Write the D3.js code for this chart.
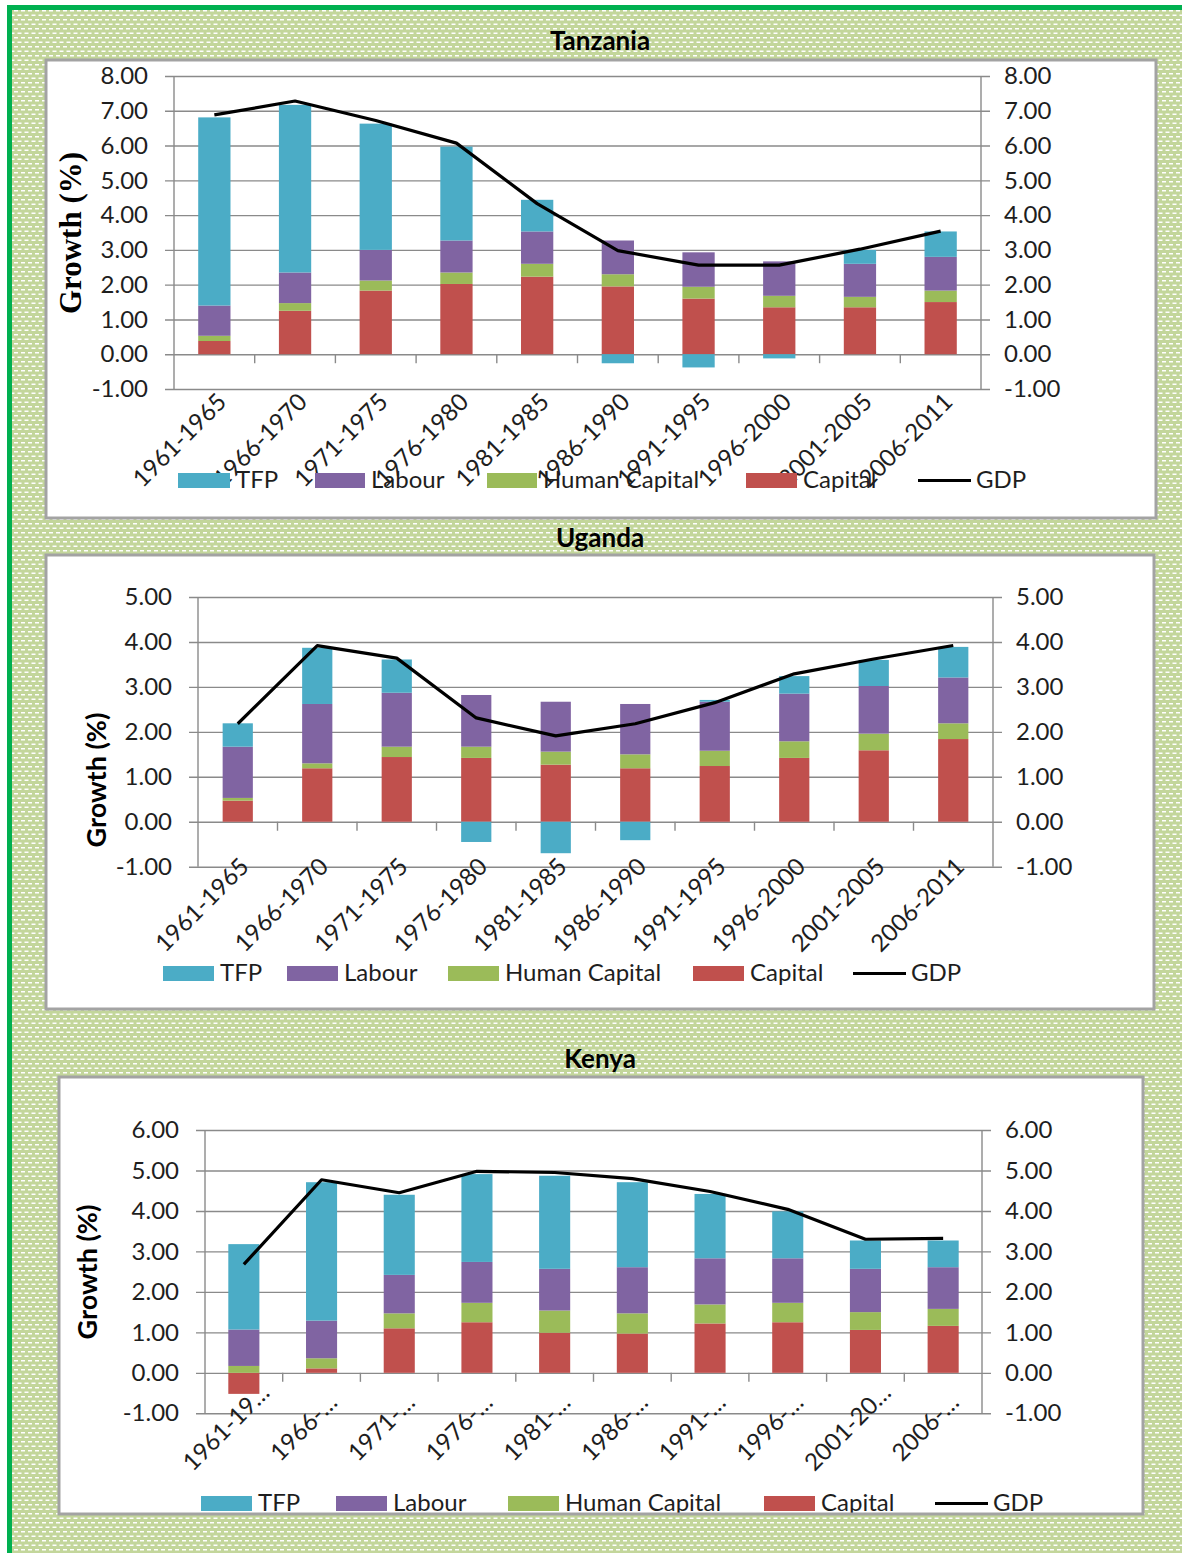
<!DOCTYPE html>
<html>
<head>
<meta charset="utf-8">
<script src="https://cdn.jsdelivr.net/npm/d3@7"></script>
<style>
  html, body { margin: 0; padding: 0; background: #ffffff; }
  svg { display: block; }
</style>
</head>
<body>
<svg id="chart" width="1182" height="1553"></svg>
<script>
// ---------------- DATA ----------------
const categories = ["1961-1965","1966-1970","1971-1975","1976-1980","1981-1985","1986-1990","1991-1995","1996-2000","2001-2005","2006-2011"];
const kenyaCategoryLabels = ["1961-19…","1966-…","1971-…","1976-…","1981-…","1986-…","1991-…","1996-…","2001-20…","2006-…"];
const seriesKeys = ["Capital","Human Capital","Labour","TFP"];
const legendLabels = ["TFP","Labour","Human Capital","Capital","GDP"];

// Tanzania
const tzCapital = [0.38,1.25,1.83,2.02,2.23,1.95,1.60,1.35,1.35,1.50];
const tzHuman   = [0.15,0.22,0.29,0.33,0.37,0.35,0.34,0.33,0.30,0.33];
const tzLabour  = [0.87,0.88,0.88,0.92,0.93,0.97,0.99,0.99,0.95,0.97];
const tzTFP     = [5.41,4.82,3.63,2.70,0.91,-0.26,-0.38,-0.12,0.40,0.73];
const tzGDP     = [6.88,7.28,6.72,6.07,4.33,2.98,2.56,2.56,3.02,3.54];
const tzTicks   = [-1,0,1,2,3,4,5,6,7,8];

// Uganda
const ugCapital = [0.47,1.19,1.44,1.42,1.27,1.19,1.24,1.42,1.59,1.84];
const ugHuman   = [0.06,0.11,0.23,0.25,0.29,0.31,0.34,0.37,0.37,0.35];
const ugLabour  = [1.14,1.32,1.20,1.15,1.11,1.12,1.09,1.06,1.06,1.02];
const ugTFP     = [0.52,1.25,0.74,-0.45,-0.70,-0.41,0.04,0.39,0.58,0.68];
const ugGDP     = [2.18,3.92,3.64,2.31,1.91,2.18,2.65,3.29,3.62,3.92];
const ugTicks   = [-1,0,1,2,3,4,5];

// Kenya
const keCapital = [-0.52,0.11,1.10,1.25,0.99,0.97,1.22,1.25,1.06,1.16];
const keHuman   = [0.17,0.25,0.37,0.48,0.55,0.50,0.47,0.48,0.44,0.42];
const keLabour  = [0.90,0.93,0.95,1.01,1.03,1.14,1.14,1.10,1.07,1.03];
const keTFP     = [2.11,3.42,1.98,2.17,2.30,2.10,1.59,1.16,0.70,0.66];
const keGDP     = [2.68,4.77,4.45,4.98,4.95,4.80,4.48,4.04,3.30,3.32];
const keTicks   = [-1,0,1,2,3,4,5,6];

// ---------------- STYLE ----------------
const colors = {"TFP":"#4bacc6","Labour":"#8064a2","Human Capital":"#9bbb59","Capital":"#c0504d","GDP":"#000000"};
const gridColor = "#8a8a8a";
const textColor = "#1e1e1e";
const sansFont = "Lato, 'Open Sans', sans-serif";
const fmt = d => d.toFixed(2);

const svg = d3.select("#chart").style("font-family", sansFont);
const defs = svg.append("defs");

// background pattern
const pat = defs.append("pattern").attr("id","bgpat").attr("patternUnits","userSpaceOnUse")
  .attr("width",7).attr("height",9);
pat.append("rect").attr("width",7).attr("height",9).attr("fill","#c3d69b");
pat.append("rect").attr("x",0).attr("y",1).attr("width",4).attr("height",1.5).attr("fill","#ffffff");
pat.append("rect").attr("x",3.5).attr("y",5.5).attr("width",4).attr("height",1.5).attr("fill","#ffffff");
pat.append("rect").attr("x",-3.5).attr("y",5.5).attr("width",4).attr("height",1.5).attr("fill","#ffffff");

svg.append("rect").attr("x",9.5).attr("y",7.5).attr("width",1300).attr("height",1700)
  .attr("fill","url(#bgpat)").attr("stroke","#00b050").attr("stroke-width",5);

const charts = [
  {id:"tz", title:"Tanzania", titleY:50,
   box:[46,60,1156,518], plot:[174,981], yRange:[389,76], domain:[-1,8], ticks:tzTicks,
   cap:tzCapital, hum:tzHuman, lab:tzLabour, tfp:tzTFP, gdp:tzGDP, labels:categories, pad:0.6,
   labOff:[-29,57], yTitle:{x:81,y:233,font:"'Liberation Serif', 'Times New Roman', serif",size:31},
   legendY:473, legendX:[[178,236],[315,371],[487,543],[746,803],[918,976]]},
  {id:"ug", title:"Uganda", titleY:547,
   box:[46,555,1154,1009], plot:[198,993], yRange:[866.7,597], domain:[-1,5], ticks:ugTicks,
   cap:ugCapital, hum:ugHuman, lab:ugLabour, tfp:ugTFP, gdp:ugGDP, labels:categories, pad:0.62,
   labOff:[-30,44], yTitle:{x:106,y:780,font:sansFont,size:27},
   legendY:966, legendX:[[163,220],[287,344],[448,505],[693,750],[853,911]]},
  {id:"ke", title:"Kenya", titleY:1068,
   box:[59,1077,1143,1514], plot:[205,982], yRange:[1413.3,1130], domain:[-1,6], ticks:keTicks,
   cap:keCapital, hum:keHuman, lab:keLabour, tfp:keTFP, gdp:keGDP, labels:kenyaCategoryLabels, pad:0.6,
   labOff:[-12,20], yTitle:{x:97,y:1272,font:sansFont,size:27},
   legendY:1496, legendX:[[201,258],[336,393],[508,565],[764,821],[935,993]]}
];

charts.forEach(c => {
  // title
  svg.append("text").attr("x",600).attr("y",c.titleY).attr("text-anchor","middle")
    .attr("font-size",26).attr("font-weight","bold").attr("fill","#000").text(c.title);

  const [bx0,by0,bx1,by1] = c.box;
  defs.append("clipPath").attr("id","clip-"+c.id).append("rect")
    .attr("x",bx0).attr("y",by0).attr("width",bx1-bx0).attr("height",by1-by0);
  svg.append("rect").attr("x",bx0).attr("y",by0).attr("width",bx1-bx0).attr("height",by1-by0)
    .attr("fill","#ffffff");
  const g = svg.append("g").attr("clip-path","url(#clip-"+c.id+")");

  const data = categories.map((cat,i) => ({
    cat, "Capital":c.cap[i], "Human Capital":c.hum[i], "Labour":c.lab[i], "TFP":c.tfp[i], gdp:c.gdp[i], label:c.labels[i]
  }));

  const [L,R] = c.plot;
  const x = d3.scaleBand().domain(categories).range([L,R]).paddingInner(c.pad).paddingOuter(c.pad/2);
  const y = d3.scaleLinear().domain(c.domain).range(c.yRange);
  const step = x.step();

  // left axis with gridlines
  const ga = g.append("g").attr("transform",`translate(${L-9},0)`)
    .call(d3.axisLeft(y).tickValues(c.ticks).tickFormat(fmt)
      .tickSize(-(R-L+18)).tickPadding(17));
  ga.select(".domain").remove();
  ga.selectAll("line").attr("stroke",gridColor).attr("stroke-width",1.4);
  ga.selectAll("text").attr("font-size",24).attr("fill",textColor).style("font-family",sansFont);

  // right axis labels
  const gr = g.append("g").attr("transform",`translate(${R+9},0)`)
    .call(d3.axisRight(y).tickValues(c.ticks).tickFormat(fmt).tickSize(0).tickPadding(14));
  gr.select(".domain").remove();
  gr.selectAll("text").attr("font-size",24).attr("fill",textColor).style("font-family",sansFont);

  // vertical axis lines
  [L,R].forEach(xx => g.append("line").attr("x1",xx).attr("x2",xx)
    .attr("y1",y(c.domain[1])).attr("y2",y(c.domain[0])).attr("stroke",gridColor).attr("stroke-width",1.4));

  // category tick marks on zero line
  const bounds = d3.range(1, categories.length).map(i => L + step*i);
  g.selectAll(null).data(bounds).enter().append("line")
    .attr("x1",d=>d).attr("x2",d=>d).attr("y1",y(0)).attr("y2",y(0)+9)
    .attr("stroke",gridColor).attr("stroke-width",1.4);

  // stacked bars
  const stack = d3.stack().keys(seriesKeys).offset(d3.stackOffsetDiverging);
  const layers = stack(data);
  layers.forEach(layer => {
    g.selectAll(null).data(layer).enter().append("rect")
      .attr("x",d=>x(d.data.cat)).attr("width",x.bandwidth())
      .attr("y",d=>y(Math.max(d[0],d[1])))
      .attr("height",d=>Math.abs(y(d[0])-y(d[1])))
      .attr("fill",colors[layer.key]);
  });

  // GDP line
  const line = d3.line().x(d=>x(d.cat)+x.bandwidth()/2).y(d=>y(d.gdp));
  g.append("path").datum(data).attr("d",line).attr("fill","none")
    .attr("stroke","#000").attr("stroke-width",3.2).attr("stroke-linejoin","round");

  // category labels
  g.selectAll(null).data(data).enter().append("text")
    .attr("transform",d=>`translate(${x(d.cat)+x.bandwidth()/2+c.labOff[0]},${y(c.domain[0])+c.labOff[1]}) rotate(-45)`)
    .attr("text-anchor","middle").attr("font-size",24).attr("fill",textColor)
    .text(d=>d.label);

  // y axis title
  g.append("text").attr("transform",`translate(${c.yTitle.x},${c.yTitle.y}) rotate(-90)`)
    .attr("text-anchor","middle").attr("font-size",c.yTitle.size).attr("font-weight","bold")
    .style("font-family",c.yTitle.font).attr("fill","#000").text("Growth (%)");

  // legend
  legendLabels.forEach((lbl,i) => {
    const [sx,tx] = c.legendX[i];
    if (lbl === "GDP") {
      g.append("line").attr("x1",sx).attr("x2",tx-5).attr("y1",c.legendY+7.5).attr("y2",c.legendY+7.5)
        .attr("stroke","#000").attr("stroke-width",3.2);
    } else {
      g.append("rect").attr("x",sx).attr("y",c.legendY).attr("width",tx-sx-6).attr("height",15)
        .attr("fill",colors[lbl]);
    }
    g.append("text").attr("x",tx).attr("y",c.legendY+15).attr("font-size",24)
      .attr("fill",textColor).text(lbl);
  });

  // box border
  svg.append("rect").attr("x",bx0).attr("y",by0).attr("width",bx1-bx0).attr("height",by1-by0)
    .attr("fill","none").attr("stroke","#a3a3a3").attr("stroke-width",3);
});
</script>
</body>
</html>
